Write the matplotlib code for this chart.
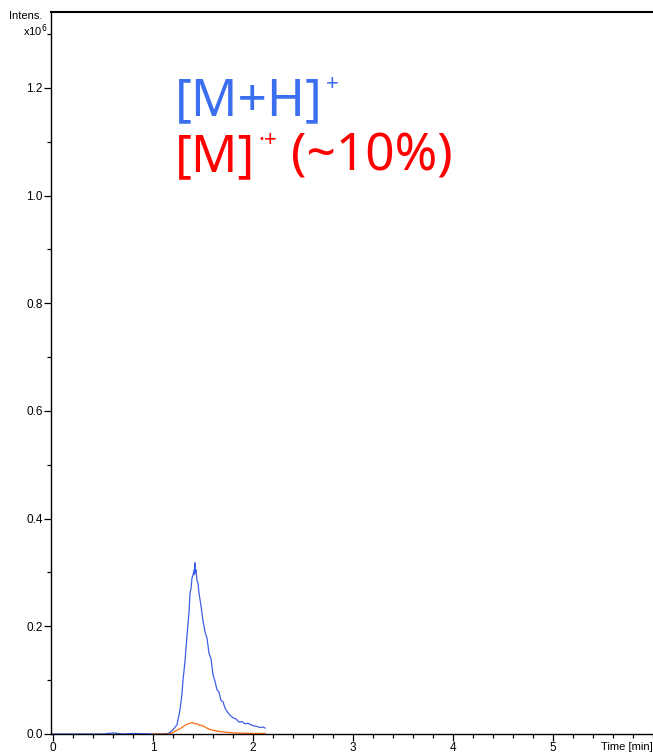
import matplotlib
matplotlib.use("Agg")
import matplotlib.pyplot as plt
from matplotlib.ticker import MultipleLocator, FormatStrFormatter

# -------------------------------------------------
# Extracted ion chromatogram
# time in minutes, intensity in units of 1e6 counts
# -------------------------------------------------
blue_t = [0.0, 0.5, 0.6, 0.7, 0.8, 1.0, 1.10, 1.15, 1.17, 1.20, 1.24, 1.27,
          1.29, 1.30, 1.32, 1.33, 1.35, 1.36, 1.37, 1.38, 1.39, 1.40, 1.41,
          1.415, 1.42, 1.425, 1.43, 1.44, 1.45, 1.46, 1.47, 1.48, 1.50, 1.52,
          1.54, 1.56, 1.58, 1.60, 1.62, 1.64, 1.66, 1.68, 1.70, 1.72, 1.74,
          1.77, 1.80, 1.83, 1.86, 1.89, 1.92, 1.95, 1.98, 2.01, 2.04, 2.07,
          2.10, 2.12]
blue_i = [0.0, 0.0, 0.002, 0.0, 0.001, 0.0, 0.0, 0.001, 0.003, 0.008, 0.017,
          0.045, 0.075, 0.100, 0.135, 0.160, 0.205, 0.225, 0.262, 0.270, 0.290,
          0.295, 0.305, 0.296, 0.318, 0.300, 0.305, 0.285, 0.280, 0.262, 0.250,
          0.238, 0.210, 0.190, 0.178, 0.150, 0.140, 0.110, 0.098, 0.082, 0.078,
          0.062, 0.060, 0.048, 0.042, 0.035, 0.030, 0.028, 0.022, 0.023, 0.019,
          0.020, 0.017, 0.015, 0.014, 0.012, 0.013, 0.011]

orange_t = [1.0, 1.16, 1.20, 1.24, 1.28, 1.31, 1.34, 1.37, 1.40, 1.42, 1.44,
            1.46, 1.48, 1.50, 1.53, 1.56, 1.60, 1.65, 1.70, 1.75, 1.80, 1.90,
            2.00, 2.12]
orange_i = [0.0, 0.0, 0.003, 0.007, 0.011, 0.015, 0.018, 0.020, 0.021, 0.019,
            0.019, 0.017, 0.016, 0.015, 0.012, 0.009, 0.007, 0.005, 0.004,
            0.003, 0.002, 0.0015, 0.001, 0.001]

x_ticks = [0, 1, 2, 3, 4, 5]
y_ticks = [0.0, 0.2, 0.4, 0.6, 0.8, 1.0, 1.2]

BLUE_LINE = "#3d5fe6"
ORANGE_LINE = "#ff6a10"
BLUE_TEXT = "#3c6ef0"
RED_TEXT = "#ff0000"

W, H = 653, 754
BIG = 37      # label font size
SUP = 16      # superscript font size


def put_parts(fig, x0, base_y, parts, color):
    # writes text pieces one after another, each piece:
    # (text, fontsize, raise in px, gap before in px)
    renderer = fig.canvas.get_renderer()
    x = x0
    for txt, size, lift, gap in parts:
        x += gap
        t = fig.text(x / W, 1 - (base_y - lift) / H, txt, fontsize=size,
                     color=color, family="Noto Sans", va="baseline")
        bb = t.get_window_extent(renderer)
        x += bb.width


def main():
    fig = plt.figure(figsize=(W / 100, H / 100), dpi=100)
    ax = fig.add_axes([51 / W, 20 / H, (W - 51) / W, (734 - 12) / H])

    # traces
    ax.plot(blue_t, blue_i, color=BLUE_LINE, lw=0.9)
    ax.plot(orange_t, orange_i, color=ORANGE_LINE, lw=0.9)

    ax.set_xlim(-0.02, 6.0)
    ax.set_ylim(0, 1.341)

    # axes look of the instrument software
    ax.spines["right"].set_visible(False)
    for s in ("left", "top", "bottom"):
        ax.spines[s].set_linewidth(1.0)
    ax.spines["top"].set_linewidth(1.5)

    ax.set_xticks(x_ticks)
    ax.xaxis.set_minor_locator(MultipleLocator(0.2))
    ax.set_yticks(y_ticks)
    ax.yaxis.set_minor_locator(MultipleLocator(0.1))
    ax.yaxis.set_major_formatter(FormatStrFormatter("%.1f"))
    ax.tick_params(which="major", length=5, width=0.9, pad=1,
                   labelsize=8.5, direction="out")
    ax.tick_params(which="minor", length=3, width=0.9, direction="out")
    for lab in ax.get_xticklabels() + ax.get_yticklabels():
        lab.set_fontfamily("Liberation Sans")

    # axis captions
    fig.text(9 / W, 1 - 19 / H, "Intens.", fontsize=8, family="Liberation Sans",
             ha="left", va="baseline")
    fig.text(47 / W, 1 - 36 / H, r"x10$^{6}$", fontsize=8,
             family="Liberation Sans", ha="right", va="baseline")
    fig.text(653 / W, 1 - 750 / H, "Time [min]", fontsize=8,
             family="Liberation Sans", ha="right", va="baseline")

    # ion annotations
    put_parts(fig, 175, 115,
              [("[M+H]", BIG, 0, 0), ("+", SUP, 25, 3)], BLUE_TEXT)
    put_parts(fig, 175, 171,
              [("[M]", BIG, 0, 0), ("\u00b7+", SUP, 25, 3),
               ("(~10%)", BIG, 0, 14)], RED_TEXT)

    fig.savefig("out.png", dpi=100)
    plt.close(fig)


if __name__ == "__main__":
    main()
